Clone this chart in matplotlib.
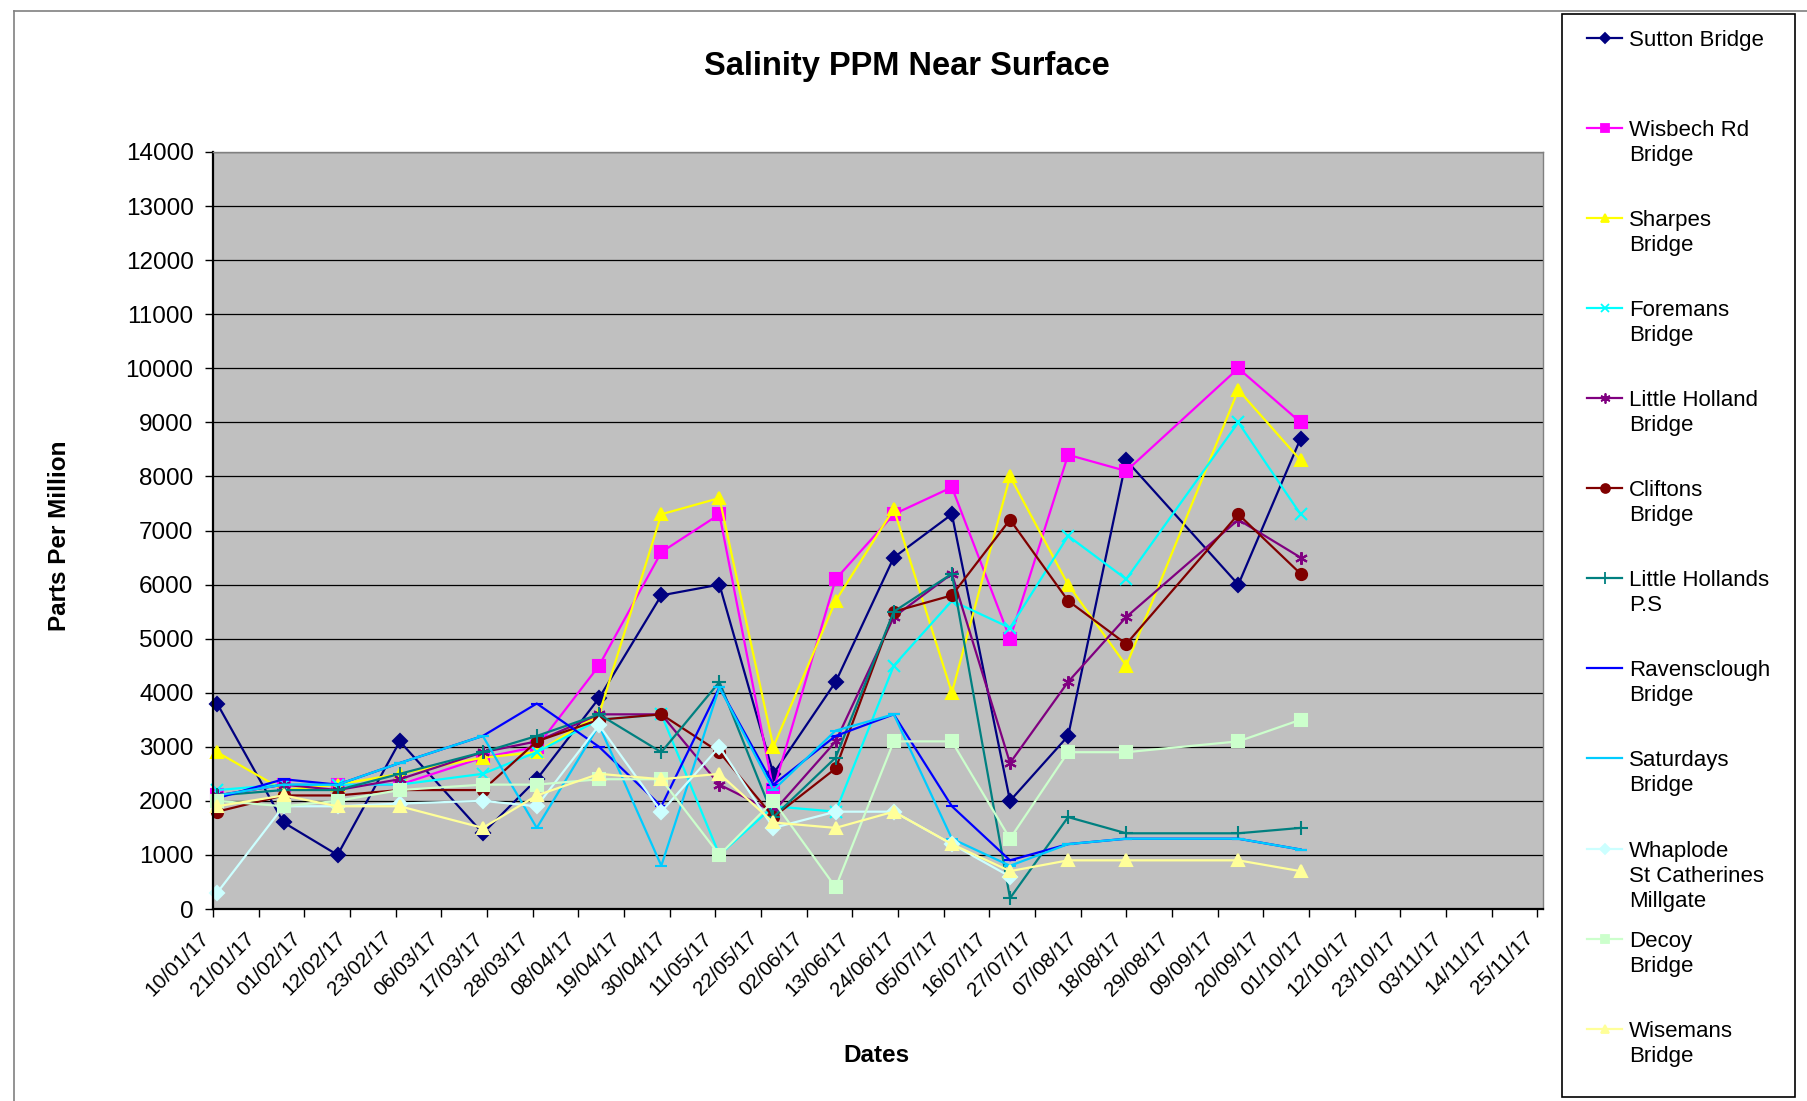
import matplotlib
matplotlib.use('Agg')
import matplotlib.pyplot as plt
import matplotlib.dates as mdates
from matplotlib.lines import Line2D
from matplotlib.patches import Rectangle
import numpy as np
import pandas as pd

plt.rcParams['font.family'] = ['Liberation Sans', 'DejaVu Sans']

nan = np.nan

# sample dates
dates = pd.to_datetime(['2017-01-11', '2017-01-27', '2017-02-09', '2017-02-24', '2017-03-16',
                        '2017-03-29', '2017-04-13', '2017-04-28', '2017-05-12', '2017-05-25',
                        '2017-06-09', '2017-06-23', '2017-07-07', '2017-07-21', '2017-08-04',
                        '2017-08-18', '2017-09-14', '2017-09-29'])

sutton = [3800, 1600, 1000, 3100, 1400, 2400, 3900, 5800, 6000, 2500, 4200, 6500, 7300, 2000, 3200, 8300, 6000, 8700]
wisbech = [2100, 2300, 2300, 2300, 2800, 3000, 4500, 6600, 7300, 2200, 6100, 7300, 7800, 5000, 8400, 8100, 10000, 9000]
sharpes = [2900, 2200, 2300, 2500, 2800, 2900, 3600, 7300, 7600, 3000, 5700, 7400, 4000, 8000, 6000, 4500, 9600, 8300]
foremans = [2200, 2300, 2300, 2300, 2500, 2900, 3500, 3600, 1000, 1900, 1800, 4500, 5700, 5200, 6900, 6100, 9000, 7300]
little_holland = [2100, 2300, 2200, 2400, 2900, 3100, 3600, 3600, 2300, 1800, 3100, 5400, 6200, 2700, 4200, 5400, 7200, 6500]
cliftons = [1800, 2100, 2100, 2200, 2200, 3100, 3500, 3600, 2900, 1700, 2600, 5500, 5800, 7200, 5700, 4900, 7300, 6200]
little_hollands_ps = [2100, 2200, 2200, 2500, 2900, 3200, 3600, 2900, 4200, 1700, 2800, 5500, 6200, 200, 1700, 1400, 1400, 1500]
ravensclough = [2050, 2400, 2300, 2700, 3200, 3800, 3000, 1900, 4100, 2300, 3200, 3600, 1900, 900, 1200, 1300, 1300, 1100]
saturdays = [2100, 2300, 2300, 2700, 3200, 1500, 3400, 800, 4100, 2200, 3300, 3600, 1300, 800, 1200, 1300, 1300, 1100]
whaplode = [300, 1900, 1900, 1950, 2000, 1900, 3400, 1800, 3000, 1500, 1800, 1800, 1200, 600, nan, nan, nan, nan]
decoy = [2000, 1900, 2000, 2200, 2300, 2300, 2400, 2400, 1000, 2000, 400, 3100, 3100, 1300, 2900, 2900, 3100, 3500]
wisemans = [1900, 2100, 1900, 1900, 1500, 2100, 2500, 2400, 2500, 1600, 1500, 1800, 1200, 700, 900, 900, 900, 700]

labels = ['Sutton Bridge', 'Wisbech Rd\nBridge', 'Sharpes\nBridge', 'Foremans\nBridge',
          'Little Holland\nBridge', 'Cliftons\nBridge', 'Little Hollands\nP.S', 'Ravensclough\nBridge',
          'Saturdays\nBridge', 'Whaplode\nSt Catherines\nMillgate', 'Decoy\nBridge', 'Wisemans\nBridge']

series = [sutton, wisbech, sharpes, foremans, little_holland, cliftons, little_hollands_ps,
          ravensclough, saturdays, whaplode, decoy, wisemans]

# excel style: colour, marker, marker size
styles = [('#000080', 'D', 7), ('#FF00FF', 's', 8), ('#FFFF00', '^', 8), ('#00FFFF', 'x', 8),
          ('#800080', (6, 2, 0), 9), ('#800000', 'o', 8), ('#008080', '+', 10), ('#0000FF', '_', 8),
          ('#00CCFF', '_', 8), ('#CCFFFF', 'D', 7), ('#CCFFCC', 's', 8), ('#FFFF99', '^', 8)]

W, H = 1808, 1101
fig = plt.figure(figsize=(W / 100, H / 100), dpi=100)
ax = fig.add_axes([213 / W, 1 - 909 / H, (1543 - 213) / W, (909 - 152) / H])
ax.set_facecolor('#C0C0C0')

for vals, (col, mk, ms) in zip(series, styles):
    ax.plot(dates, vals, color=col, lw=1.6, marker=mk, markersize=ms,
            markeredgewidth=1.5, markerfacecolor=col, markeredgecolor=col, clip_on=False)

ax.set_ylim(0, 14000)
ax.set_yticks(range(0, 14001, 1000))
ax.grid(axis='y', color='black', lw=0.9)
ax.set_axisbelow(True)

start = pd.Timestamp('2017-01-10')
ax.set_xlim(start, start + pd.Timedelta(days=320.4))
ax.set_xticks(pd.date_range(start, periods=30, freq='11D'))
ax.xaxis.set_major_formatter(mdates.DateFormatter('%d/%m/%y'))
for lab in ax.get_xticklabels():
    lab.set_rotation(45)
    lab.set_ha('right')
    lab.set_va('top')

ax.tick_params(axis='x', direction='out', length=6, width=1, labelsize=15, pad=8)
ax.tick_params(axis='y', direction='out', length=6, width=1, labelsize=17.5, pad=8)
for s in ['left', 'bottom']:
    ax.spines[s].set_linewidth(1.6)
    ax.spines[s].set_color('black')
for s in ['top', 'right']:
    ax.spines[s].set_linewidth(1)
    ax.spines[s].set_color('#808080')

fig.text(907 / W, 1 - 66 / H, 'Salinity PPM Near Surface', ha='center', va='center',
         fontsize=23.5, fontweight='bold')
fig.text(60 / W, 1 - 536 / H, 'Parts Per Million', rotation=90, ha='center', va='center',
         fontsize=17.5, fontweight='bold')
fig.text(876 / W, 1 - 1056 / H, 'Dates', ha='center', va='center', fontsize=17.5, fontweight='bold')

# chart frame (top + left)
fig.add_artist(Line2D([14 / W, 14 / W], [0, 1 - 11 / H], color='#808080', lw=1.2))
fig.add_artist(Line2D([14 / W, 1], [1 - 11 / H, 1 - 11 / H], color='#808080', lw=1.2))

# legend drawn by hand so the key sits on the first text line
fig.add_artist(Rectangle((1562 / W, 1 - 1097 / H), (1795 - 1562) / W, (1097 - 14) / H,
                         transform=fig.transFigure, fill=False, ec='black', lw=1.2))
leg_y = [38, 128, 218, 308, 398, 488, 578, 668, 758, 849, 939, 1029]
for y, lab, (col, mk, ms) in zip(leg_y, labels, styles):
    yy = 1 - y / H
    fig.add_artist(Line2D([1587 / W, 1604.5 / W, 1622 / W], [yy, yy, yy], color=col, lw=1.6,
                          marker=mk, markersize=ms * 0.8, markevery=[1], markeredgewidth=1.3,
                          markerfacecolor=col, markeredgecolor=col))
    fig.text(1629 / W, 1 - (y - 8) / H, lab, ha='left', va='top', fontsize=16, linespacing=1.25)

fig.savefig('out.png', dpi=100)
